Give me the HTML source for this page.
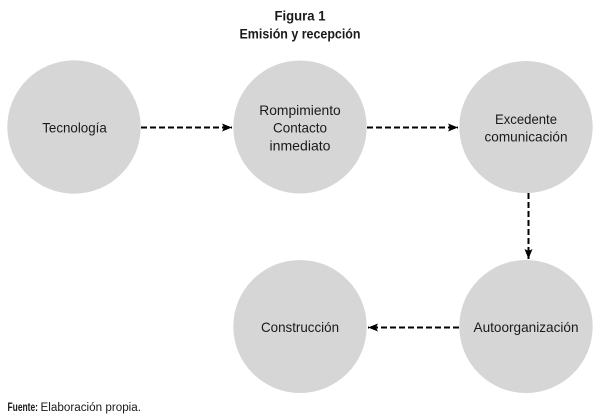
<!DOCTYPE html>
<html>
<head>
<meta charset="utf-8">
<style>
  html, body { margin: 0; padding: 0; background: #ffffff; }
  body { width: 601px; height: 416px; overflow: hidden; }
  svg { display: block; }
  text { font-family: "Liberation Sans", "DejaVu Sans", sans-serif; fill: #1a1a1a; }
</style>
</head>
<body>
<svg width="601" height="416" viewBox="0 0 601 416" xmlns="http://www.w3.org/2000/svg">
  <defs>
    <marker id="ah" markerWidth="10" markerHeight="8" refX="10" refY="4" orient="auto" markerUnits="userSpaceOnUse">
      <path d="M0,0 L10,4 L0,8 L2,4 Z" fill="#000"/>
    </marker>
  </defs>
  <rect width="601" height="416" fill="#ffffff"/>

  <!-- Title -->
  <text x="300" y="20.5" font-size="14" font-weight="bold" text-anchor="middle" textLength="51" lengthAdjust="spacingAndGlyphs">Figura 1</text>
  <text x="300" y="38.5" font-size="14" font-weight="bold" text-anchor="middle" textLength="121" lengthAdjust="spacingAndGlyphs">Emisión y recepción</text>

  <!-- Circles -->
  <ellipse cx="74" cy="127" rx="66.7" ry="66.7" fill="#d6d6d6"/>
  <ellipse cx="300" cy="127" rx="66.7" ry="66.5" fill="#d6d6d6"/>
  <ellipse cx="526" cy="127" rx="66.7" ry="66" fill="#d6d6d6"/>
  <ellipse cx="300" cy="326.5" rx="66.7" ry="66.5" fill="#d6d6d6"/>
  <ellipse cx="526" cy="326.5" rx="66.7" ry="66.5" fill="#d6d6d6"/>

  <!-- Connectors -->
  <line x1="141" y1="127.5" x2="232" y2="127.5" stroke="#000" stroke-width="2" stroke-dasharray="6,3" marker-end="url(#ah)"/>
  <line x1="367" y1="127.5" x2="458" y2="127.5" stroke="#000" stroke-width="2" stroke-dasharray="6,3" marker-end="url(#ah)"/>
  <line x1="528.5" y1="193" x2="528.5" y2="259" stroke="#000" stroke-width="2" stroke-dasharray="6,3" marker-end="url(#ah)"/>
  <line x1="459" y1="327.5" x2="368" y2="327.5" stroke="#000" stroke-width="2" stroke-dasharray="6,3" marker-end="url(#ah)"/>

  <!-- Labels -->
  <text x="74.5" y="132.5" font-size="14" text-anchor="middle" textLength="64.5" lengthAdjust="spacingAndGlyphs">Tecnología</text>

  <text x="300" y="115" font-size="14" text-anchor="middle" textLength="81.5" lengthAdjust="spacingAndGlyphs">Rompimiento</text>
  <text x="300" y="132.5" font-size="14" text-anchor="middle" textLength="54" lengthAdjust="spacingAndGlyphs">Contacto</text>
  <text x="300" y="150.3" font-size="14" text-anchor="middle" textLength="61" lengthAdjust="spacingAndGlyphs">inmediato</text>

  <text x="526" y="124" font-size="14" text-anchor="middle" textLength="62" lengthAdjust="spacingAndGlyphs">Excedente</text>
  <text x="526" y="141.5" font-size="14" text-anchor="middle" textLength="83" lengthAdjust="spacingAndGlyphs">comunicación</text>

  <text x="300" y="332" font-size="14" text-anchor="middle" textLength="78" lengthAdjust="spacingAndGlyphs">Construcción</text>
  <text x="526" y="332" font-size="14" text-anchor="middle" textLength="105" lengthAdjust="spacingAndGlyphs">Autoorganización</text>

  <!-- Footer -->
  <text x="7.5" y="411" font-size="11.5" font-weight="bold" textLength="30.5" lengthAdjust="spacingAndGlyphs">Fuente:</text>
  <text x="40.5" y="411" font-size="11.5" textLength="100.5" lengthAdjust="spacingAndGlyphs">Elaboración propia.</text>
</svg>
</body>
</html>
